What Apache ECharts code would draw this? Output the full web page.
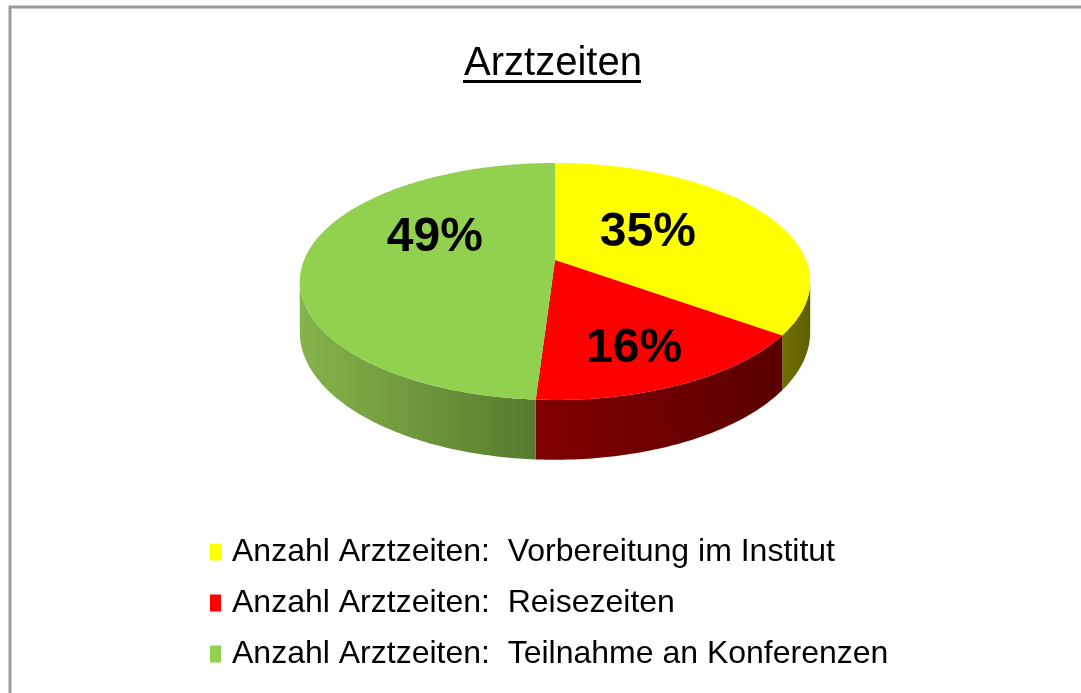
<!DOCTYPE html>
<html>
<head>
<meta charset="utf-8">
<script src="https://cdn.jsdelivr.net/npm/echarts@6/dist/echarts.min.js"></script>
<style>
  html, body { margin: 0; padding: 0; background: #fff; }
  #chart { width: 1081px; height: 693px; }
</style>
</head>
<body>
<div id="chart"></div>
<script>
// data
const categories = [
  'Anzahl Arztzeiten:  Vorbereitung im Institut',
  'Anzahl Arztzeiten:  Reisezeiten',
  'Anzahl Arztzeiten:  Teilnahme an Konferenzen'
];
const shares = [35, 16, 49];

// colours (top face, side gradient light -> dark)
const topColors = ['#ffff00', '#ff0000', '#92d050'];
const sideColors = [['#707000', '#5f5f00'], ['#820000', '#5a0000'], ['#84b44a', '#587a2e']];

// pie geometry (perspective disc)
const CX = 555, CY = 260, RX = 251, RY = 114.6, K = 0.181, DEPTH = 49;
// where the % labels sit on each slice (fraction of radius, extra lift in px)
const labelRadius = [0.43, 0.66, 0.48];
const labelLift = [-6, 12, -21];

const total = shares.reduce((a, b) => a + b, 0);
const angles = [];
let acc = 0;
shares.forEach(v => {
  const a0 = acc / total * Math.PI * 2;
  acc += v;
  angles.push([a0, acc / total * Math.PI * 2]);
});

// alpha: clockwise from the far (top) point
function proj(alpha, r, down) {
  const X = r * Math.sin(alpha), Z = -r * Math.cos(alpha);
  const s = 1 / (1 - K * Z);
  return [CX + RX * X * s, CY + (RY * Z + down) * s];
}

function rim(a0, a1, down) {
  const pts = [];
  const n = Math.max(2, Math.ceil((a1 - a0) / (Math.PI / 180)));
  for (let j = 0; j <= n; j++) pts.push(proj(a0 + (a1 - a0) * j / n, 1, down));
  return pts;
}

const wallFrom = Math.acos(-K), wallTo = Math.PI * 2 - Math.acos(-K);

function makeRender(i) {
  return function (params, api) {
    const [a0, a1] = angles[i];
    const children = [];
    const w0 = Math.max(a0, wallFrom), w1 = Math.min(a1, wallTo);
    if (w1 > w0) {
      const pts = rim(w0, w1, 0).concat(rim(w0, w1, DEPTH).reverse());
      children.push({
        type: 'polygon',
        shape: { points: pts },
        style: {
          fill: new echarts.graphic.LinearGradient(0, 0, 1, 0, [
            { offset: 0, color: sideColors[i][0] },
            { offset: 1, color: sideColors[i][1] }
          ])
        },
        z2: 1
      });
    }
    children.push({
      type: 'polygon',
      shape: { points: [proj(0, 0, 0)].concat(rim(a0, a1, 0)) },
      style: { fill: topColors[i] },
      z2: 2
    });
    const mid = (a0 + a1) / 2;
    const lp = proj(mid, labelRadius[i], 0);
    children.push({
      type: 'text',
      style: {
        text: Math.round(shares[i] / total * 100) + '%',
        x: lp[0], y: lp[1] + labelLift[i],
        align: 'center', verticalAlign: 'middle',
        font: 'bold 48px "Liberation Sans", Arial, sans-serif',
        fill: '#000'
      },
      z2: 10
    });
    return { type: 'group', children: children };
  };
}

const chart = echarts.init(document.getElementById('chart'));
chart.setOption({
  backgroundColor: '#fff',
  animation: false,
  title: {
    text: 'Arztzeiten',
    left: 548,
    textAlign: 'center',
    top: 39,
    textStyle: { fontSize: 40, fontWeight: 'normal', fontFamily: 'Liberation Sans', color: '#000' }
  },
  legend: {
    data: categories,
    orient: 'vertical',
    left: 205,
    top: 530,
    icon: 'rect',
    itemWidth: 11,
    itemHeight: 17,
    itemGap: 17,
    selectedMode: false,
    textStyle: {
      fontSize: 32,
      fontFamily: 'Liberation Sans',
      color: '#000',
      lineHeight: 34,
      padding: [0, 0, 0, 6]
    }
  },
  graphic: [
    {
      type: 'rect',
      shape: { x: 10, y: 7, width: 1100, height: 720 },
      style: { fill: 'none', stroke: '#9a9a9a', lineWidth: 3 },
      silent: true
    },
    {
      type: 'rect',
      shape: { x: 463, y: 80, width: 178, height: 3 },
      style: { fill: '#000' },
      silent: true
    }
  ],
  series: categories.map((name, i) => ({
    type: 'custom',
    name: name,
    coordinateSystem: 'none',
    silent: true,
    itemStyle: { color: topColors[i] },
    data: [shares[i]],
    renderItem: makeRender(i)
  }))
});
</script>
</body>
</html>
